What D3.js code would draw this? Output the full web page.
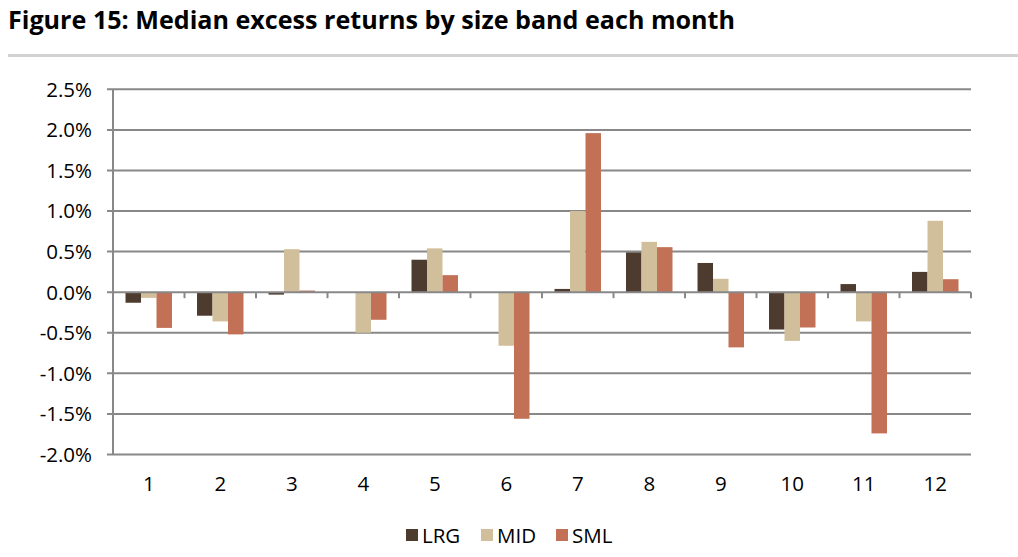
<!DOCTYPE html>
<html><head><meta charset="utf-8">
<script src="https://cdn.jsdelivr.net/npm/d3@7"></script>
<style>body{margin:0;background:#fff}</style>
</head><body>
<svg id="c" width="1018" height="557"></svg>
<script>
const months = ["1","2","3","4","5","6","7","8","9","10","11","12"];
const series = ["LRG","MID","SML"];
const lrg = [-0.13,-0.29,-0.03,0.0,0.40,0.0,0.04,0.49,0.36,-0.46,0.10,0.25];
const mid = [-0.07,-0.36,0.53,-0.50,0.54,-0.66,1.00,0.62,0.165,-0.60,-0.36,0.88];
const sml = [-0.44,-0.52,0.02,-0.34,0.21,-1.56,1.96,0.555,-0.68,-0.435,-1.74,0.16];
const yTicks = [2.5,2.0,1.5,1.0,0.5,0.0,-0.5,-1.0,-1.5,-2.0];
const colors = ["#4e3b2f","#d1bf9b","#c27156"];
const values = [lrg, mid, sml];

const svg = d3.select("#c");
const font = "'Open Sans', 'Noto Sans', sans-serif";

svg.append("text").attr("x",8).attr("y",29)
  .attr("font-family",font).attr("font-weight","bold").attr("font-size",25)
  .attr("textLength",727).attr("lengthAdjust","spacingAndGlyphs")
  .attr("fill","#000").text("Figure 15: Median excess returns by size band each month");
svg.append("rect").attr("x",8).attr("y",54).attr("width",1010).attr("height",3).attr("fill","#d2d2d2");

const left = 113, right = 971;
const y = d3.scaleLinear().domain([-2.0,2.5]).range([454.5,89.3]);
const x0 = d3.scaleBand().domain(months).range([left,right]).paddingInner(0.35).paddingOuter(0.175);
const x1 = d3.scaleBand().domain(series).range([0,x0.bandwidth()]);
const step = (right-left)/months.length;

// gridlines
svg.append("g").selectAll("line").data(yTicks.filter(d=>d!==0)).join("line")
  .attr("x1",left-6).attr("x2",right).attr("y1",d=>y(d)).attr("y2",d=>y(d))
  .attr("stroke","#888").attr("stroke-width",2);
// y axis line
svg.append("line").attr("x1",left).attr("x2",left).attr("y1",y(2.5)).attr("y2",y(-2.0))
  .attr("stroke","#888").attr("stroke-width",2);

// y labels
svg.append("g").selectAll("text").data(yTicks).join("text")
  .attr("x",92).attr("y",d=>y(d)).attr("dy","0.36em").attr("text-anchor","end")
  .attr("font-family",font).attr("font-size",20.5).attr("fill","#000")
  .text(d=>d.toFixed(1)+"%");

// bars
const g = svg.append("g");
months.forEach((m,i)=>{
  series.forEach((s,j)=>{
    const v = values[j][i];
    if (v===0) return;
    g.append("rect")
      .attr("x",x0(m)+x1(s)).attr("width",x1.bandwidth())
      .attr("y",y(Math.max(0,v))).attr("height",Math.abs(y(v)-y(0)))
      .attr("fill",colors[j]);
  });
});

// zero axis
svg.append("line").attr("x1",left-6).attr("x2",right).attr("y1",y(0)).attr("y2",y(0))
  .attr("stroke","#888").attr("stroke-width",2);
// category ticks
svg.append("g").selectAll("line").data(d3.range(months.length+1)).join("line")
  .attr("x1",d=>left+d*step).attr("x2",d=>left+d*step).attr("y1",y(0)).attr("y2",y(0)+6)
  .attr("stroke","#888").attr("stroke-width",2);

// x labels
svg.append("g").selectAll("text").data(months).join("text")
  .attr("x",d=>x0(d)+x0.bandwidth()/2).attr("y",491).attr("text-anchor","middle")
  .attr("font-family",font).attr("font-size",20.5).attr("fill","#000").text(d=>d);

// legend
const lx = [406,481,556];
series.forEach((s,j)=>{
  svg.append("rect").attr("x",lx[j]).attr("y",529).attr("width",12).attr("height",12).attr("fill",colors[j]);
  svg.append("text").attr("x",lx[j]+16).attr("y",542.5).attr("font-family",font).attr("font-size",20.5)
    .attr("fill","#000").text(s);
});
</script>
</body></html>
